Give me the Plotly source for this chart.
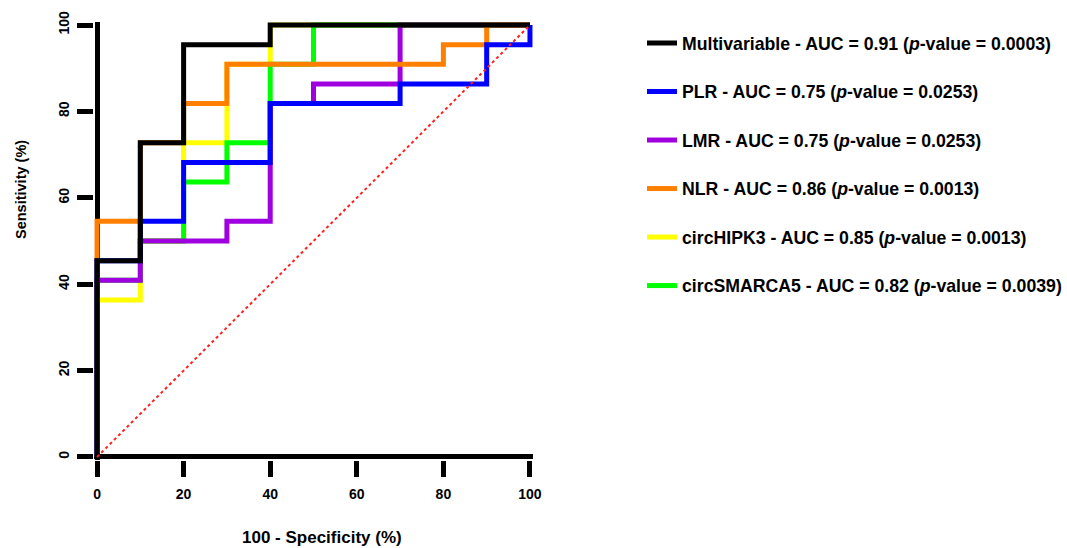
import plotly.graph_objects as go

# ROC step points (100 - Specificity %, Sensitivity %), drawn with 'vh' steps
names = [
    "Multivariable - AUC = 0.91 (<i>p</i>-value = 0.0003)",
    "PLR - AUC = 0.75 (<i>p</i>-value = 0.0253)",
    "LMR - AUC = 0.75 (<i>p</i>-value = 0.0253)",
    "NLR - AUC = 0.86 (<i>p</i>-value = 0.0013)",
    "circHIPK3 - AUC = 0.85 (<i>p</i>-value = 0.0013)",
    "circSMARCA5 - AUC = 0.82 (<i>p</i>-value = 0.0039)",
]
colors = ["#000000", "#0000ff", "#a000e0", "#ff8000", "#ffff00", "#00ff00"]

multi_x = [0, 10, 20, 40, 100]
multi_y = [0, 45.45, 72.73, 95.45, 100]

plr_x = [0, 10, 20, 40, 70, 90, 100, 100]
plr_y = [0, 45.45, 54.55, 68.18, 81.82, 86.36, 95.45, 100]

lmr_x = [0, 10, 30, 40, 50, 70, 100]
lmr_y = [0, 40.91, 50, 54.55, 81.82, 86.36, 100]

nlr_x = [0, 10, 20, 30, 80, 90, 100]
nlr_y = [0, 54.55, 72.73, 81.82, 90.91, 95.45, 100]

hipk3_x = [0, 10, 20, 30, 40, 100]
hipk3_y = [0, 36.36, 50, 72.73, 90.91, 100]

smarca5_x = [0, 10, 20, 30, 40, 50, 100]
smarca5_y = [0, 40.91, 50, 63.64, 72.73, 90.91, 100]

ref_x = [0, 100]
ref_y = [0, 100]

xticks = [0, 20, 40, 60, 80, 100]
yticks = [0, 20, 40, 60, 80, 100]

series = [
    (multi_x, multi_y),
    (plr_x, plr_y),
    (lmr_x, lmr_y),
    (nlr_x, nlr_y),
    (hipk3_x, hipk3_y),
    (smarca5_x, smarca5_y),
]

FONT = "Liberation Sans, Arial, sans-serif"

fig = go.Figure()
# drawing order bottom -> top
draw_order = [4, 5, 2, 3, 1, 0]
for i in draw_order:
    xs, ys = series[i]
    fig.add_trace(go.Scatter(
        x=xs, y=ys, mode="lines", name=names[i],
        line=dict(color=colors[i], width=5, shape="vh"),
        legendrank=i + 1, legendgroup=f"g{i}",
        hoverinfo="skip",
    ))

fig.add_trace(go.Scatter(
    x=ref_x, y=ref_y, mode="lines", showlegend=False,
    line=dict(color="#ff2020", width=2, dash="3px,3px"),
    hoverinfo="skip",
))

axis_common = dict(
    showgrid=False, showline=False,
    zeroline=True, zerolinewidth=5, zerolinecolor="#000000",
    ticks="outside", ticklen=16, tickwidth=5, tickcolor="#000000",
    tickfont=dict(family=FONT, size=14, color="#000000", weight="bold"),
    range=[-0.7, 100.7], fixedrange=True,
)

fig.update_layout(
    width=1067, height=548,
    margin=dict(l=94, r=534, t=22, b=88),
    paper_bgcolor="white", plot_bgcolor="white",
    xaxis=dict(tickvals=xticks, ticklabelstandoff=5, **axis_common),
    yaxis=dict(tickvals=yticks, tickangle=-90, ticklabelstandoff=2, **axis_common),
    showlegend=True,
    legend=dict(
        xref="container", yref="container",
        x=642 / 1067, y=1 - 25 / 548, xanchor="left", yanchor="top",
        font=dict(family=FONT, size=17.7, color="#000000", weight="bold"),
        tracegroupgap=22.5, bgcolor="rgba(0,0,0,0)",
    ),
    annotations=[
        dict(text="100 - Specificity (%)", xref="paper", yref="paper",
             x=(322 - 94) / 439, y=(460 - 537) / 438, showarrow=False,
             xanchor="center", yanchor="middle",
             font=dict(family=FONT, size=17, color="#000000", weight="bold")),
        dict(text="Sensitivity (%)", xref="paper", yref="paper",
             x=(21 - 94) / 439, y=(460 - 190) / 438, showarrow=False,
             textangle=-90, xanchor="center", yanchor="middle",
             font=dict(family=FONT, size=14.5, color="#000000", weight="bold")),
    ],
)

fig.write_html(
    "out.html",
    config={"displayModeBar": False},
    post_script="document.body.style.margin='0px';",
)
